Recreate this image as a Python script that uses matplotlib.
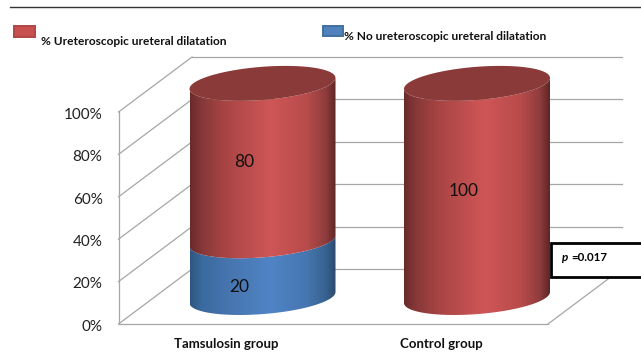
import numpy as np
from matplotlib import pyplot as plt
from matplotlib.colors import LinearSegmentedColormap
from matplotlib.patches import Polygon, Rectangle

plt.rcParams['font.family'] = ['Lato', 'DejaVu Sans']

groups = ['Tamsulosin group', 'Control group']
tick_values = [0, 20, 40, 60, 80, 100]
tick_labels = ['0%', '20%', '40%', '60%', '80%', '100%']
# drawn heights differ from the printed labels in the original
no_dilatation = [26.5, 0]
dilatation = [73.5, 100]
no_labels = ['20', '']
dilatation_labels = ['80', '100']
legend_names = ['% Ureteroscopic ureteral dilatation', '% No ureteroscopic ureteral dilatation']

px_per_pct = 2.12
zero_px = 324

fig = plt.figure(figsize=(6.41, 3.52), dpi=100)
ax = fig.add_axes([0, 0, 1, 1])
ax.axis('off')

reds = LinearSegmentedColormap.from_list('reds', [
    (0, '#692a2a'), (0.08, '#873838'), (0.25, '#aa4545'), (0.55, '#cf5656'),
    (0.8, '#b94b4b'), (0.93, '#8f3d3d'), (1, '#5e2626')])
blues = LinearSegmentedColormap.from_list('blues', [
    (0, '#2f5680'), (0.08, '#3a6a9f'), (0.25, '#4674ad'), (0.55, '#5084c6'),
    (0.8, '#4676b0'), (0.93, '#386391'), (1, '#2b4a6e')])
grid_col = '#a6a6a6'

depth_x = 73.5
depth_y = 55 / px_per_pct
wall_left = 118.5
wall_right = 548

# walls and gridlines
for v in tick_values:
    ax.plot([wall_left, wall_left + depth_x], [v, v + depth_y], color=grid_col, lw=0.9, zorder=1)
    ax.plot([wall_left + depth_x, wall_right + depth_x], [v + depth_y, v + depth_y], color=grid_col, lw=0.9, zorder=1)
ax.plot([wall_left, wall_left], [0, 100], color=grid_col, lw=0.9, zorder=1)
ax.plot([wall_left, wall_right], [0, 0], color=grid_col, lw=0.9, zorder=1)
ax.plot([wall_right, wall_right + depth_x], [0, depth_y], color=grid_col, lw=0.9, zorder=1)

for v, lab in zip(tick_values, tick_labels):
    ax.text(102.5, v - 1.3, lab, ha='right', va='center', fontsize=11, color='#222222')

# cylinders
centers = [262.5, 477]
half_w = 73
skew = 5.5 / px_per_pct
minor = 16.6 / px_per_pct
base = 12.5
stretch = 1.01


def arc(cx, level, t):
    x = cx + half_w * np.cos(t)
    y = base + level * stretch + skew * np.cos(t) + minor * np.sin(t)
    return x, y


def side(cx, low, high, cmap):
    t = np.linspace(0, -np.pi, 80)
    x1, y1 = arc(cx, low, t)
    x2, y2 = arc(cx, high, t)
    pts = np.r_[np.c_[x1, y1], np.c_[x2, y2][::-1]]
    patch = Polygon(pts, closed=True, fc='none', ec='none', zorder=3)
    ax.add_patch(patch)
    im = ax.imshow(np.linspace(0, 1, 256)[None, :], cmap=cmap, aspect='auto', zorder=3,
                   extent=[cx - half_w, cx + half_w, -20, 130])
    im.set_clip_path(patch)


for i, cx in enumerate(centers):
    low = no_dilatation[i]
    high = low + dilatation[i]
    if low > 0:
        side(cx, 0, low, blues)
    side(cx, low, high, reds)
    t = np.linspace(0, 2 * np.pi, 160)
    tx, ty = arc(cx, high, t)
    ax.fill(tx, ty, color='#8b3a3a', lw=0, zorder=4)

label_x = [244, 463.5]
label_y = [76.5, 62.5]
for i in range(2):
    ax.text(label_x[i], label_y[i], dilatation_labels[i], ha='center', va='center', fontsize=12.5, color='#111111', zorder=5)
ax.text(239, 17.6, no_labels[0], ha='center', va='center', fontsize=12.5, color='#111111', zorder=5)

for cx, name in zip([226, 441], groups):
    ax.text(cx, -9.3, name, ha='center', va='center', fontsize=9.5, fontweight='bold', color='#111111')

# legend
ax.add_patch(Rectangle((14, 135.2), 20.5, 5.2, fc='#c8504f', ec='#b04543', lw=1.4, zorder=5))
ax.add_patch(Rectangle((322.5, 135.7), 20.5, 4.7, fc='#4f81bd', ec='#41709f', lw=1.4, zorder=5))
ax.text(41, 133.2, legend_names[0], ha='left', va='center', fontsize=8.6, fontweight='bold', color='#111111')
ax.text(344, 135.8, legend_names[1], ha='left', va='center', fontsize=8.6, fontweight='bold', color='#111111')

# top rule
ax.plot([9.5, 641], [149.3, 149.3], color='#333333', lw=1.0)

# p value box
ax.add_patch(Rectangle((551, 22.2), 100, 16, fc='white', ec='black', lw=2.0, zorder=6))
ax.text(561.5, 31.4, 'p', ha='left', va='center', fontsize=8.4, fontweight='bold', style='italic', zorder=7)
ax.text(571.5, 31.4, '=0.017', ha='left', va='center', fontsize=8.4, fontweight='bold', zorder=7)

ax.set_xlim(0, 641)
ax.set_ylim(-(352 - zero_px) / px_per_pct, zero_px / px_per_pct)

fig.savefig('out.png', dpi=100)
